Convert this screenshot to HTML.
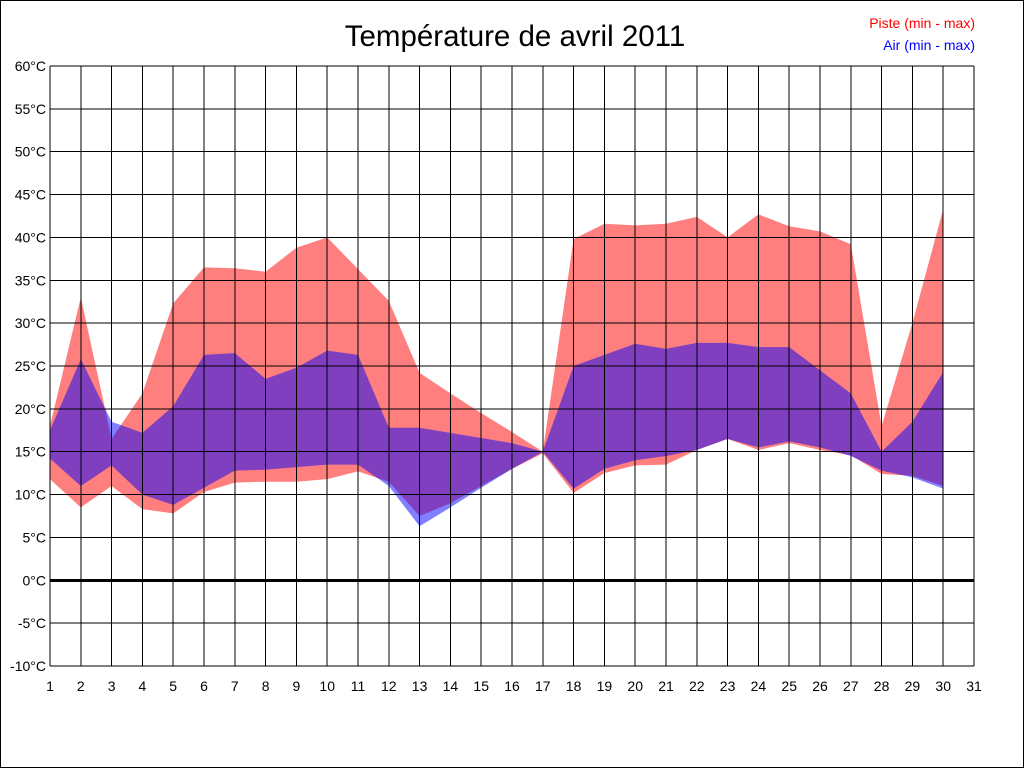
<!DOCTYPE html>
<html><head><meta charset="utf-8"><style>
body{margin:0;background:#fff}
svg{display:block;font-family:"Liberation Sans",sans-serif}
</style></head><body>
<svg id="c" width="1024" height="768">
<rect x="0.5" y="0.5" width="1023" height="767" fill="#fff" stroke="#000"/>
<text x="515" y="46" font-size="29.5" text-anchor="middle">Température de avril 2011</text>
<text x="975" y="28" font-size="14" fill="#ff0000" text-anchor="end">Piste (min - max)</text>
<text x="975" y="50" font-size="14" fill="#0000ff" text-anchor="end">Air (min - max)</text>
<g id="fills"></g><g id="grid" shape-rendering="crispEdges"></g><g id="labels"></g>
</svg>
<script>
const days=[1,2,3,4,5,6,7,8,9,10,11,12,13,14,15,16,17,18,19,20,21,22,23,24,25,26,27,28,29,30];
const pisteMax=[18,33,16.5,21.8,32.3,36.5,36.4,36,38.8,40,36.3,32.6,24.2,21.8,19.5,17.3,15,39.8,41.6,41.4,41.6,42.4,40,42.7,41.3,40.7,39.2,18,30,43.3];
const pisteMin=[11.8,8.5,11,8.3,7.8,10.3,11.4,11.5,11.5,11.8,12.7,11.5,7.5,9,11,13,14.8,10.2,12.5,13.4,13.5,15.2,16.5,15.2,16,15.2,14.6,12.4,12.2,11];
const airMax=[17.5,25.8,18.5,17.2,20.3,26.3,26.5,23.5,24.8,26.8,26.3,17.8,17.8,17.2,16.6,16,15,25,26.3,27.6,27,27.7,27.7,27.2,27.2,24.5,21.8,15,18.5,24.3];
const airMin=[14.2,11,13.4,10,8.8,10.8,12.8,12.9,13.2,13.5,13.5,11,6.3,8.5,10.8,13,15,10.7,13,14,14.5,15.2,16.5,15.5,16.2,15.5,14.5,12.8,12,10.7];
const yTicks=[60,55,50,45,40,35,30,25,20,15,10,5,0,-5,-10];
const xTicks=[1,2,3,4,5,6,7,8,9,10,11,12,13,14,15,16,17,18,19,20,21,22,23,24,25,26,27,28,29,30,31];
const X0=50,X1=974,Y0=66,Y1=666;
const xs=d=>X0+(d-1)*(X1-X0)/30;
const ys=t=>Y0+(60-t)*(Y1-Y0)/70;
const NS='http://www.w3.org/2000/svg';
function band(mx,mn,color,name){
  let pts=days.map((d,i)=>xs(d)+','+ys(mx[i]));
  for(let i=days.length-1;i>=0;i--)pts.push(xs(days[i])+','+ys(mn[i]));
  const p=document.createElementNS(NS,'polygon');
  p.setAttribute('points',pts.join(' '));
  p.setAttribute('fill',color);p.setAttribute('fill-opacity','0.5');
  
  
  document.getElementById('fills').appendChild(p);
}
band(pisteMax,pisteMin,'#ff0000','piste-band');
band(airMax,airMin,'#0000ff','air-band');
const g=document.getElementById('grid'),L=document.getElementById('labels');
yTicks.forEach(t=>{
  const l=document.createElementNS(NS,'line');
  l.setAttribute('x1',X0);l.setAttribute('x2',X1);l.setAttribute('y1',ys(t));l.setAttribute('y2',ys(t));
  l.setAttribute('stroke','#000');l.setAttribute('stroke-width',t===0?3:1);
  
  
  g.appendChild(l);
  const tx=document.createElementNS(NS,'text');
  tx.setAttribute('x',46);tx.setAttribute('y',ys(t)+5);tx.setAttribute('font-size','14');tx.setAttribute('text-anchor','end');
  tx.textContent=t+'°C';
  
  
  L.appendChild(tx);
});
xTicks.forEach(d=>{
  const l=document.createElementNS(NS,'line');
  l.setAttribute('x1',xs(d));l.setAttribute('x2',xs(d));l.setAttribute('y1',Y0);l.setAttribute('y2',Y1);
  l.setAttribute('stroke','#000');l.setAttribute('stroke-width',1);
  
  
  g.appendChild(l);
  const tx=document.createElementNS(NS,'text');
  tx.setAttribute('x',xs(d));tx.setAttribute('y',691);tx.setAttribute('font-size','14');tx.setAttribute('text-anchor','middle');
  tx.textContent=d;
  
  
  L.appendChild(tx);
});
</script>
</body></html>
